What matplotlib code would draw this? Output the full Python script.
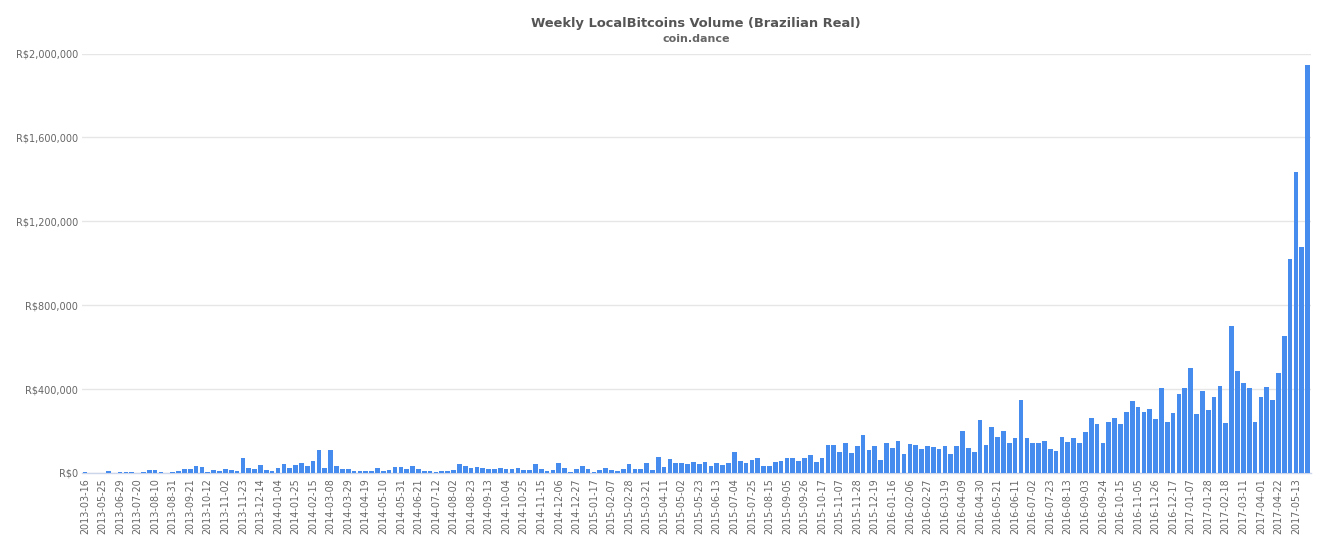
import matplotlib
matplotlib.use("Agg")
import matplotlib.pyplot as plt
from matplotlib.ticker import FuncFormatter

tick_labels = [
"2013-03-16","2013-05-25","2013-06-29","2013-07-20","2013-08-10","2013-08-31","2013-09-21","2013-10-12","2013-11-02","2013-11-23","2013-12-14",
"2014-01-04","2014-01-25","2014-02-15","2014-03-08","2014-03-29","2014-04-19","2014-05-10","2014-05-31","2014-06-21","2014-07-12","2014-08-02","2014-08-23","2014-09-13","2014-10-04","2014-10-25","2014-11-15","2014-12-06","2014-12-27",
"2015-01-17","2015-02-07","2015-02-28","2015-03-21","2015-04-11","2015-05-02","2015-05-23","2015-06-13","2015-07-04","2015-07-25","2015-08-15","2015-09-05","2015-09-26","2015-10-17","2015-11-07","2015-11-28","2015-12-19",
"2016-01-16","2016-02-06","2016-02-27","2016-03-19","2016-04-09","2016-04-30","2016-05-21","2016-06-11","2016-07-02","2016-07-23","2016-08-13","2016-09-03","2016-09-24","2016-10-15","2016-11-05","2016-11-26","2016-12-17",
"2017-01-07","2017-01-28","2017-02-18","2017-03-11","2017-04-01","2017-04-22","2017-05-13"]

volume = [
3000,500,1500,2000,9000,500,2500,4500,3000,800,5000,13000,14000,5000,800,3000,8000,19000,21000,32000,27000,3000,13000,10000,17000,15000,9000,72000,22000,19000,
38000,14000,9000,24000,44000,24000,38000,48000,33000,57000,108000,24000,108000,32000,19000,19000,10000,11000,10000,10000,25000,10000,16000,28000,28000,19000,33000,19000,8000,11000,
4000,11000,11000,14000,41000,33000,24000,30000,22000,19000,17000,25000,19000,19000,25000,14000,14000,43000,19000,10000,13000,46000,22000,5000,19000,32000,19000,7000,13000,22000,
16000,8000,17000,41000,19000,17000,48000,14000,76000,30000,67000,49000,48000,43000,51000,43000,51000,35000,46000,37000,49000,100000,56000,46000,62000,73000,35000,35000,52000,57000,
71000,70000,57000,70000,84000,51000,73000,133000,133000,102000,141000,95000,127000,181000,111000,127000,62000,141000,117000,154000,92000,138000,132000,114000,130000,124000,114000,129000,92000,127000,
198000,117000,102000,251000,133000,219000,170000,198000,141000,167000,348000,165000,141000,141000,152000,114000,103000,171000,149000,168000,141000,194000,262000,232000,141000,241000,260000,232000,289000,343000,
314000,292000,305000,256000,405000,243000,286000,376000,405000,500000,281000,392000,300000,360000,416000,236000,700000,484000,429000,405000,243000,360000,409000,348000,479000,655000,1019000,1433000,1076000,1943000]

y_ticks = [0, 400000, 800000, 1200000, 1600000, 2000000]
title = "Weekly LocalBitcoins Volume (Brazilian Real)"
subtitle = "coin.dance"

W, H = 1325, 550
fig = plt.figure(figsize=(W/100, H/100), dpi=100, facecolor="white")
ax = fig.add_axes([82/W, 1-473/H, (1310.6-82)/W, (473-53.5)/H])
ax.bar(range(len(volume)), volume, width=0.8, color="#458cee", linewidth=0, zorder=3)
ax.set_xlim(-0.5, len(volume)-0.5)
ax.set_ylim(0, 2000000)
ax.set_yticks(y_ticks)
ax.yaxis.set_major_formatter(FuncFormatter(lambda v, _: f"R${v:,.0f}"))
ax.set_xticks(range(0, len(tick_labels)*3, 3))
ax.set_xticklabels(tick_labels, rotation=90, ha="center", va="top")
ax.tick_params(axis="x", length=0, pad=4, labelsize=6.9, labelcolor="#666666")
ax.tick_params(axis="y", length=0, pad=3, labelsize=7.0, labelcolor="#666666")
ax.grid(axis="y", color="#e6e6e6", linewidth=1, zorder=0)
ax.set_axisbelow(True)
for s in ["top", "left", "right"]:
    ax.spines[s].set_visible(False)
ax.spines["bottom"].set_color("#ccd6eb")
ax.spines["bottom"].set_linewidth(1)
fig.text(696/W, 1-23.5/H, title, ha="center", va="center", fontsize=9.4, fontweight="bold", color="#555555")
fig.text(696/W, 1-39/H, subtitle, ha="center", va="center", fontsize=8.0, fontweight="bold", color="#666666")
fig.savefig("out.png", dpi=100)
